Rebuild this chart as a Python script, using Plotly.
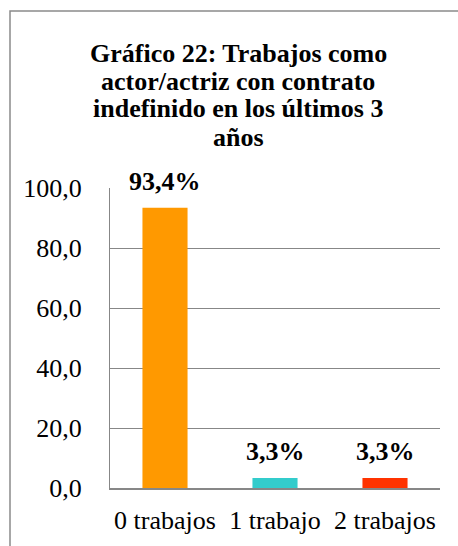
import plotly.graph_objects as go

categories = ["0 trabajos", "1 trabajo", "2 trabajos"]
values = [93.4, 3.3, 3.3]
bar_colors = ["#FF9900", "#33CCCC", "#FF3300"]
title_lines = [
    "Gráfico 22: Trabajos como",
    "actor/actriz con contrato",
    "indefinido en los últimos 3",
    "años",
]
y_ticks = [0, 20, 40, 60, 80, 100]

FONT = "Liberation Serif"
W, H = 458, 546
L, R, T, B = 110, 18, 188, 58
plot_h = H - T - B
plot_w = W - L - R

def px_x(p):
    return (p - L) / plot_w

def px_y(p):
    return (H - B - p) / plot_h

fig = go.Figure(
    go.Bar(
        x=categories,
        y=values,
        marker=dict(color=bar_colors, line=dict(width=0)),
        width=0.41,
        hoverinfo="skip",
    )
)

annotations = []
for cat, v in zip(categories, values):
    annotations.append(dict(
        x=cat, y=v, xref="x", yref="y",
        text=f"{v:.1f}".replace(".", ",") + "%",
        showarrow=False, yanchor="bottom", yshift=10,
        font=dict(family=FONT, size=26, color="#000000", weight="bold"),
    ))

title_mid_px = [53, 81, 109, 138]
for line, py in zip(title_lines, title_mid_px):
    annotations.append(dict(
        x=px_x(238), y=px_y(py), xref="paper", yref="paper",
        text=line, showarrow=False,
        xanchor="center", yanchor="middle",
        font=dict(family=FONT, size=26, color="#000000", weight="bold"),
    ))

fig.update_layout(
    width=W, height=H,
    margin=dict(l=L, r=R, t=T, b=B, pad=0),
    paper_bgcolor="#FFFFFF", plot_bgcolor="#FFFFFF",
    showlegend=False,
    separators=",.",
    font=dict(family=FONT, size=26, color="#000000"),
    annotations=annotations,
    shapes=[dict(
        type="rect", xref="paper", yref="paper",
        x0=px_x(10), x1=px_x(W + 20), y0=px_y(H + 20), y1=px_y(11),
        line=dict(color="#8A8A8A", width=1.5), fillcolor="rgba(0,0,0,0)",
        layer="below",
    )],
    xaxis=dict(
        showgrid=False, showline=True, linecolor="#878787", linewidth=1.5,
        ticks="", ticklabelstandoff=8, tickfont=dict(family=FONT, size=26),
    ),
    yaxis=dict(
        range=[0, 100], tickvals=y_ticks, tickformat=".1f",
        showgrid=True, gridcolor="#878787", gridwidth=1.2,
        showline=True, linecolor="#878787", linewidth=1.2,
        zeroline=False, ticks="", ticklabelstandoff=22,
        tickfont=dict(family=FONT, size=26),
    ),
)

fig.write_html("out.html", config={"displayModeBar": False},
               post_script="document.body.style.margin='0';")
